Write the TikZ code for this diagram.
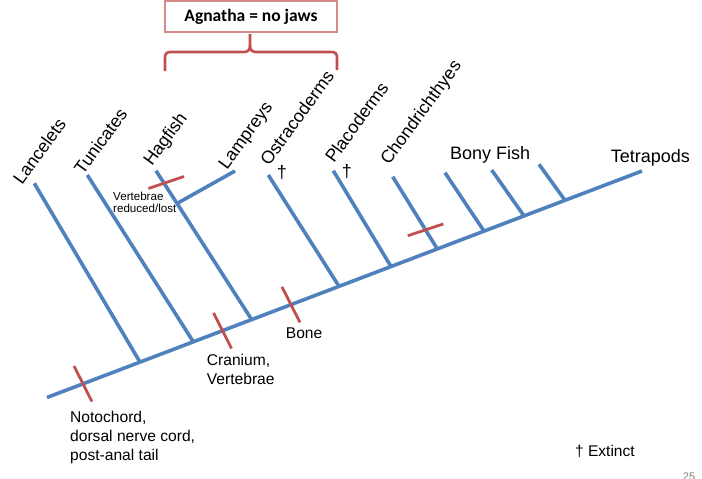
\documentclass[tikz,border=0pt]{standalone}
\usepackage{fontspec}
\setmainfont{Liberation Sans}
\newfontfamily\calibrifont{Carlito}
\usetikzlibrary{calc}
\definecolor{lineblue}{HTML}{4F81BD}
\definecolor{tickred}{HTML}{C0504D}
\definecolor{boxred}{HTML}{D58B89}
\begin{document}
\begin{tikzpicture}[x=1pt,y=-1pt,
  branch/.style={draw=lineblue, line width=3.6pt},
  tickmark/.style={draw=tickred, line width=2.8pt},
  bracestyle/.style={draw=tickred, line width=2.6pt, line join=round},
  taxon/.style={font=\fontsize{17.8}{20}\selectfont, rotate=54, anchor=base west, inner sep=0pt},
  lab/.style={font=\fontsize{18}{21}\selectfont, anchor=base west, inner sep=0pt},
  trait/.style={font=\fontsize{15.6}{18.7}\selectfont, anchor=base west, inner sep=0pt, align=left},
  dagger/.style={font=\fontsize{18}{20}\selectfont, inner sep=0pt}]
\useasboundingbox (0,0) rectangle (702,479);

% main line
\coordinate (m0) at (47,397.5);
\coordinate (m1) at (642,171);
\draw[branch] (m0) -- (m1);

% joins on main line
\coordinate (jLan) at ($(m0)!0.1563!(m1)$);
\coordinate (jTun) at ($(m0)!0.2459!(m1)$);
\coordinate (jHag) at ($(m0)!0.3440!(m1)$);
\coordinate (jOst) at ($(m0)!0.4908!(m1)$);
\coordinate (jPla) at ($(m0)!0.5782!(m1)$);
\coordinate (jCho) at ($(m0)!0.6560!(m1)$);
\coordinate (jB1) at ($(m0)!0.7345!(m1)$);
\coordinate (jB2) at ($(m0)!0.8017!(m1)$);
\coordinate (jB3) at ($(m0)!0.8706!(m1)$);

% branch tips
\coordinate (pLan) at (34.3,183.3);
\coordinate (pTun) at (87.3,175);
\coordinate (pHag) at (156,170.7);
\coordinate (pLam) at (235,171);
\coordinate (pOst) at (268.3,175);
\coordinate (pPla) at (333.3,170.7);
\coordinate (pCho) at (392.7,176.7);
\coordinate (pB1) at (445,172.7);
\coordinate (pB2) at (491.7,170);
\coordinate (pB3) at (539,164.3);
\coordinate (jLam) at ($(pHag)!0.22!(jHag)$);

\draw[branch] (pLan) -- (jLan);
\draw[branch] (pTun) -- (jTun);
\draw[branch] (pHag) -- (jHag);
\draw[branch] (pLam) -- (jLam);
\draw[branch] (pOst) -- (jOst);
\draw[branch] (pPla) -- (jPla);
\draw[branch] (pCho) -- (jCho);
\draw[branch] (pB1) -- (jB1);
\draw[branch] (pB2) -- (jB2);
\draw[branch] (pB3) -- (jB3);

% trait ticks
\coordinate (kNot) at ($(m0)!0.0605!(m1)$);
\coordinate (kCra) at ($(m0)!0.295!(m1)$);
\coordinate (kBon) at ($(m0)!0.410!(m1)$);
\coordinate (kHag) at (166.2,182.5);
\coordinate (kCho) at ($(pCho)!0.736!(jCho)$);
\draw[tickmark] ($(kNot)+(-9,-17.8)$) -- ($(kNot)+(9,17.8)$);
\draw[tickmark] ($(kCra)+(-9,-17.8)$) -- ($(kCra)+(9,17.8)$);
\draw[tickmark] ($(kBon)+(-9,-17.8)$) -- ($(kBon)+(9,17.8)$);
\draw[tickmark] ($(kHag)+(-17.8,6)$) -- ($(kHag)+(17.8,-6)$);
\draw[tickmark] ($(kCho)+(-17.8,5.9)$) -- ($(kCho)+(17.8,-5.9)$);

% taxon labels
\node[taxon] (tLan) at (22,186) {Lancelets};
\node[taxon] (tTun) at (83,176) {Tunicates};
\node[taxon] (tHag) at (152,167) {Hagfish};
\node[taxon] (tLam) at (227,170.5) {Lampreys};
\node[taxon] (tOst) at (269,167) {Ostracoderms};
\node[taxon] (tPla) at (334,164) {Placoderms};
\node[taxon] (tCho) at (389,166) {Chondrichthyes};
\node[dagger] (dOst) at (282,173) {†};
\node[dagger] (dPla) at (347,172) {†};
\node[lab] (tBony) at (450,159.3) {Bony Fish};
\node[lab] (tTet) at (610.7,162.7) {Tetrapods};

% trait labels (base anchor = last line)
\node[font=\fontsize{11.6}{12.3}\selectfont, anchor=base west, align=left, inner sep=0pt] (lVert) at (113,212.3) {Vertebrae\\reduced/lost};
\node[trait] (lNot) at (70,460) {Notochord,\\dorsal nerve cord,\\post-anal tail};
\node[trait] (lCra) at (206.7,384.3) {Cranium,\\Vertebrae};
\node[trait] (lBon) at (285.7,338.3) {Bone};

% Agnatha box and brace
\node[draw=boxred, line width=1.5pt, minimum width=172pt, minimum height=31pt, inner sep=0pt,
      font=\calibrifont\bfseries\fontsize{17.5}{20}\selectfont] (agn) at (251,16.5) {Agnatha = no jaws};
\draw[bracestyle] (165,71) -- (165,58) .. controls (165,53.5) and (166.5,52) .. (171,52)
  -- (244,52) .. controls (248,52) and (250,50) .. (250,45) -- (250,34);
\draw[bracestyle] (250,45) .. controls (250,50) and (252,52) .. (256,52)
  -- (331,52) .. controls (335.5,52) and (337,53.5) .. (337,58) -- (337,70);

% legend
\node[font=\fontsize{15.5}{18}\selectfont, anchor=base west, inner sep=0pt] (lExt) at (575,456) {† Extinct};
\node[font=\fontsize{11}{13}\selectfont, text=gray, anchor=base] (lPg) at (689,480.5) {25};
\end{tikzpicture}
\end{document}
